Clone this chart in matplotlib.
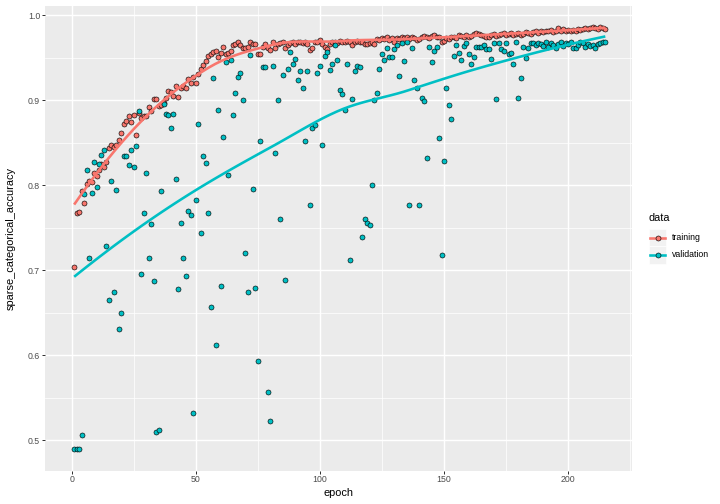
import numpy as np
import matplotlib
matplotlib.use("Agg")
import matplotlib.pyplot as plt
from matplotlib.patches import Rectangle
from matplotlib.lines import Line2D

plt.rcParams['font.family'] = ['Liberation Sans', 'DejaVu Sans']

epochs = list(range(1, 216))

training = [
    0.704, 0.767, 0.769, 0.793, 0.779, 0.802, 0.805, 0.804, 0.815, 0.811,
    0.818, 0.825, 0.822, 0.828, 0.844, 0.847, 0.845, 0.847, 0.853, 0.861,
    0.872, 0.876, 0.881, 0.875, 0.883, 0.859, 0.885, 0.879, 0.881, 0.882,
    0.892, 0.888, 0.902, 0.902, 0.893, 0.894, 0.897, 0.903, 0.911, 0.910,
    0.905, 0.917, 0.904, 0.914, 0.917, 0.915, 0.925, 0.920, 0.928, 0.920,
    0.931, 0.937, 0.942, 0.946, 0.952, 0.954, 0.957, 0.958, 0.951, 0.956,
    0.963, 0.955, 0.956, 0.958, 0.965, 0.966, 0.968, 0.965, 0.962, 0.961,
    0.963, 0.968, 0.966, 0.966, 0.954, 0.955, 0.963, 0.966, 0.962, 0.959,
    0.968, 0.962, 0.966, 0.967, 0.968, 0.962, 0.965, 0.967, 0.969, 0.966,
    0.968, 0.969, 0.967, 0.968, 0.966, 0.959, 0.961, 0.968, 0.969, 0.971,
    0.966, 0.963, 0.960, 0.966, 0.968, 0.969, 0.967, 0.970, 0.968, 0.969,
    0.970, 0.968, 0.965, 0.969, 0.970, 0.968, 0.969, 0.966, 0.966, 0.967,
    0.968, 0.966, 0.972, 0.971, 0.973, 0.972, 0.974, 0.971, 0.973, 0.969,
    0.973, 0.972, 0.974, 0.973, 0.975, 0.972, 0.974, 0.973, 0.971, 0.972,
    0.974, 0.976, 0.975, 0.973, 0.976, 0.977, 0.975, 0.974, 0.968, 0.970,
    0.973, 0.972, 0.974, 0.975, 0.973, 0.977, 0.976, 0.974, 0.977, 0.975,
    0.976, 0.978, 0.979, 0.978, 0.977, 0.976, 0.975, 0.974, 0.977, 0.978,
    0.976, 0.977, 0.978, 0.979, 0.977, 0.978, 0.979, 0.977, 0.978, 0.979,
    0.977, 0.978, 0.980, 0.979, 0.978, 0.980, 0.981, 0.979, 0.981, 0.980,
    0.982, 0.981, 0.983, 0.980, 0.981, 0.985, 0.982, 0.984, 0.982, 0.983,
    0.981, 0.983, 0.982, 0.984, 0.983, 0.984, 0.985, 0.984, 0.985, 0.986,
    0.985, 0.984, 0.986, 0.985, 0.984,
]

validation = [
    0.490, 0.490, 0.490, 0.507, 0.790, 0.818, 0.714, 0.791, 0.828, 0.798,
    0.825, 0.836, 0.841, 0.729, 0.665, 0.805, 0.675, 0.794, 0.631, 0.650,
    0.835, 0.835, 0.824, 0.842, 0.822, 0.846, 0.888, 0.696, 0.767, 0.814,
    0.714, 0.754, 0.688, 0.510, 0.512, 0.793, 0.896, 0.884, 0.883, 0.867,
    0.884, 0.808, 0.678, 0.756, 0.715, 0.694, 0.770, 0.765, 0.532, 0.783,
    0.872, 0.744, 0.835, 0.826, 0.767, 0.657, 0.926, 0.612, 0.889, 0.682,
    0.857, 0.945, 0.812, 0.947, 0.883, 0.909, 0.927, 0.932, 0.900, 0.720,
    0.675, 0.953, 0.796, 0.679, 0.593, 0.852, 0.939, 0.939, 0.557, 0.523,
    0.940, 0.838, 0.900, 0.761, 0.930, 0.689, 0.937, 0.957, 0.943, 0.949,
    0.924, 0.935, 0.914, 0.852, 0.935, 0.777, 0.867, 0.871, 0.932, 0.940,
    0.847, 0.952, 0.957, 0.936, 0.943, 0.965, 0.947, 0.912, 0.907, 0.889,
    0.943, 0.712, 0.902, 0.935, 0.940, 0.939, 0.739, 0.760, 0.756, 0.753,
    0.801, 0.900, 0.909, 0.937, 0.954, 0.947, 0.961, 0.951, 0.951, 0.960,
    0.965, 0.929, 0.967, 0.946, 0.969, 0.777, 0.961, 0.924, 0.914, 0.777,
    0.903, 0.899, 0.832, 0.963, 0.945, 0.958, 0.963, 0.856, 0.718, 0.829,
    0.914, 0.894, 0.878, 0.952, 0.965, 0.956, 0.947, 0.964, 0.967, 0.954,
    0.943, 0.951, 0.963, 0.963, 0.963, 0.965, 0.960, 0.960, 0.949, 0.967,
    0.901, 0.967, 0.960, 0.958, 0.967, 0.954, 0.956, 0.943, 0.968, 0.903,
    0.926, 0.963, 0.950, 0.962, 0.967, 0.967, 0.965, 0.967, 0.966, 0.964,
    0.968, 0.963, 0.967, 0.965, 0.962, 0.966, 0.968, 0.964, 0.967, 0.966,
    0.969, 0.962, 0.961, 0.965, 0.968, 0.967, 0.963, 0.966, 0.964, 0.965,
    0.962, 0.966, 0.967, 0.969, 0.968,
]

series_names = ["training", "validation"]
series_colors = ["#F8766D", "#00BFC4"]


def local_fit(x, y, x0, q):
    # local quadratic, tricube weights -> value and slope at x0
    d = np.abs(x - x0)
    h = np.sort(d)[q - 1]
    w = np.clip(1 - (d / h) ** 3, 0, None) ** 3
    X = np.vstack([np.ones(len(x)), x - x0, (x - x0) ** 2]).T
    sw = np.sqrt(w)
    beta = np.linalg.lstsq(X * sw[:, None], y * sw, rcond=None)[0]
    return beta[0], beta[1]


def loess(x, y, xout, span=0.75, cell=0.2):
    # rough copy of R loess: kd-tree vertices + cubic hermite interpolation
    x = np.asarray(x, float)
    y = np.asarray(y, float)
    n = len(x)
    q = int(np.floor(n * span))
    fc = int(np.floor(n * span * cell))
    t = 0.005 * (x.max() - x.min())
    verts = {x.min() - t, x.max() + t}
    stack = [np.sort(x)]
    while stack:
        pts = stack.pop()
        if len(pts) <= fc:
            continue
        m = len(pts) // 2
        v = (pts[m - 1] + pts[m]) / 2 if len(pts) % 2 == 0 else pts[m]
        verts.add(v)
        stack.append(pts[pts <= v])
        stack.append(pts[pts > v])
    verts = np.array(sorted(verts))
    fits = [local_fit(x, y, v, q) for v in verts]
    vals = np.array([f[0] for f in fits])
    slopes = np.array([f[1] for f in fits])
    out = []
    for x0 in xout:
        i = min(np.searchsorted(verts, x0) - 1, len(verts) - 2)
        i = max(i, 0)
        h = verts[i + 1] - verts[i]
        s = (x0 - verts[i]) / h
        h00 = 2 * s**3 - 3 * s**2 + 1
        h10 = s**3 - 2 * s**2 + s
        h01 = -2 * s**3 + 3 * s**2
        h11 = s**3 - s**2
        out.append(h00 * vals[i] + h10 * h * slopes[i] + h01 * vals[i + 1] + h11 * h * slopes[i + 1])
    return np.array(out)


W, H = 720, 504
fig = plt.figure(figsize=(7.2, 5.04), dpi=100)
px = 72 / 100  # points per pixel

left, right, top, bottom = 45, 632, 5.5, 470.5
ax = fig.add_axes([left / W, 1 - bottom / H, (right - left) / W, (bottom - top) / H])
ax.set_facecolor("#EBEBEB")
for s in ax.spines.values():
    s.set_visible(False)

ax.set_xlim(-10.75, 225.75)
ax.set_ylim(0.4647, 1.0115)
ax.set_xticks([0, 50, 100, 150, 200])
ax.set_xticks([25, 75, 125, 175, 225], minor=True)
ax.set_yticks([0.5, 0.6, 0.7, 0.8, 0.9, 1.0])
ax.set_yticks([0.55, 0.65, 0.75, 0.85, 0.95], minor=True)
ax.set_yticklabels(["0.5", "0.6", "0.7", "0.8", "0.9", "1.0"])
ax.grid(which="major", color="white", linewidth=1.42 * px)
ax.grid(which="minor", color="white", linewidth=0.71 * px)
ax.set_axisbelow(True)
ax.tick_params(which="major", length=2.75 * px, width=1.0 * px, color="#333333",
               labelsize=8.8 * px, labelcolor="#4D4D4D", pad=2.2 * px)
ax.tick_params(which="minor", length=0)

xs = np.linspace(1, 215, 80)
for name, vals, col in zip(series_names, [training, validation], series_colors):
    ax.scatter(epochs, vals, s=(5.0 * px) ** 2, facecolor=col, edgecolor="black",
               linewidth=0.6 * px, zorder=3)
for name, vals, col in zip(series_names, [training, validation], series_colors):
    ax.plot(xs, loess(epochs, vals, xs), color=col, linewidth=2.6 * px, zorder=4,
            solid_capstyle="butt")

# axis titles
fig.text((left + right) / 2 / W, 5.5 / H, "epoch", ha="center", va="bottom",
         fontsize=11 * px)
fig.text(11 / W, 1 - (top + bottom) / 2 / H, "sparse_categorical_accuracy",
         rotation=90, ha="center", va="center", fontsize=11 * px)

# legend
fig.text(648.5 / W, 1 - 218 / H, "data", ha="left", va="center", fontsize=11 * px)
key_x0, key_w = 649, 17.28
for i, (name, col) in enumerate(zip(series_names, series_colors)):
    y0 = 229 + i * key_w
    fig.patches.append(Rectangle((key_x0 / W, 1 - (y0 + key_w) / H), key_w / W, key_w / H,
                                 transform=fig.transFigure, facecolor="#F2F2F2",
                                 edgecolor="white", linewidth=0.7 * px))
    yc = 1 - (y0 + key_w / 2) / H
    fig.lines.append(Line2D([(key_x0 + 1) / W, (key_x0 + key_w - 1) / W], [yc, yc],
                            transform=fig.transFigure, color=col, linewidth=2.6 * px))
    fig.lines.append(Line2D([(key_x0 + key_w / 2) / W], [yc], transform=fig.transFigure,
                            marker="o", markersize=5.0 * px, markerfacecolor=col,
                            markeredgecolor="black", markeredgewidth=0.6 * px))
    fig.text((key_x0 + key_w + 5.5) / W, yc, name, ha="left", va="center",
             fontsize=8.8 * px)

fig.savefig("out.png", dpi=100)
